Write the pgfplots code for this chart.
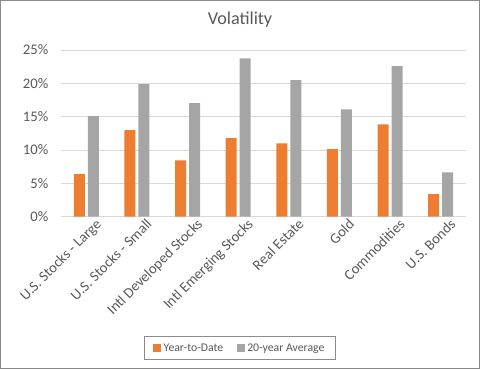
\documentclass[border=0pt]{standalone}
\usepackage{pgfplots}
\pgfplotsset{compat=1.18}
\usepackage{fontspec}
\setmainfont{Carlito}
\definecolor{ytd}{HTML}{ED7D31}
\definecolor{avg}{HTML}{A5A5A5}
\definecolor{txt}{HTML}{595959}
\definecolor{gridc}{HTML}{D9D9D9}
\definecolor{frame}{HTML}{8C8C8C}
\begin{document}
\begin{tikzpicture}
\draw[frame, line width=1pt] (0.5pt,0.5pt) rectangle (359.5pt,276.25pt);
\node[txt, font=\fontsize{13.6pt}{16pt}\selectfont] at (180pt,261.75pt) {Volatility};
\begin{axis}[
  at={(45.75pt,114.25pt)}, anchor=south west,
  scale only axis, width=303.75pt, height=125pt,
  ybar=2.25pt, bar width=8.25pt,
  xmin=-0.5, xmax=7.5, ymin=0, ymax=25,
  xtick={0,...,7},
  xticklabels={U.S. Stocks - Large, U.S. Stocks - Small, Intl Developed Stocks, Intl Emerging Stocks, Real Estate, Gold, Commodities, U.S. Bonds},
  ytick={0,5,...,25},
  yticklabel={\pgfmathprintnumber{\tick}\%},
  /pgf/number format/assume math mode=true,
  major tick length=0pt,
  ymajorgrids, grid style={gridc, line width=0.75pt},
  axis line style={draw=none},
  tick label style={txt, font=\fontsize{11pt}{13pt}\selectfont},
  yticklabel style={xshift=-6pt},
  xticklabel style={rotate=45, anchor=north east, inner sep=1pt, xshift=5pt, yshift=-4pt},
  legend columns=2,
  legend style={at={(0.442,-0.79)}, anchor=center, draw=frame, line width=0.75pt,
    font=\fontsize{8.8pt}{10pt}\selectfont, text=txt,
    /tikz/every even column/.append style={column sep=8pt},
    inner xsep=6pt, inner ysep=3pt},
  legend image code/.code={\fill[#1] (0pt,-3pt) rectangle (6pt,3pt);},
]
\addplot[fill=ytd, draw=none] coordinates {(0,6.4) (1,13.0) (2,8.45) (3,11.8) (4,11.0) (5,10.15) (6,13.85) (7,3.4)};
\addplot[fill=avg, draw=none] coordinates {(0,15.1) (1,19.9) (2,17.05) (3,23.75) (4,20.5) (5,16.1) (6,22.6) (7,6.65)};
\legend{Year-to-Date, 20-year Average}
\end{axis}
\end{tikzpicture}
\end{document}
